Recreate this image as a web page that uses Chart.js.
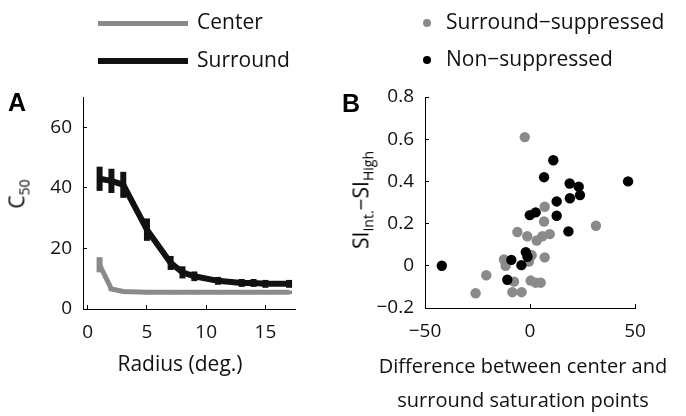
<!DOCTYPE html>
<html>
<head>
<meta charset="utf-8">
<script src="https://cdn.jsdelivr.net/npm/chart.js@4/dist/chart.umd.min.js"></script>
<style>
  body { margin: 0; background: #fff; font-family: "Open Sans", sans-serif; }
  #wrap { position: relative; width: 686px; height: 416px; overflow: hidden; }
  .box { position: absolute; top: 0; }
  .txt { position: absolute; white-space: nowrap; font-size: 21px; color: #111; line-height: 1; }
  .panel { position: absolute; font: bold 25px "Liberation Sans", Arial, sans-serif; }
  .rot { position: absolute; transform: translate(-50%, -50%) rotate(-90deg); white-space: nowrap; font-size: 21px; }
  .rot sub { font-size: 14px; }
  .xt { position: absolute; text-align: center; font-size: 20px; line-height: 34px; color: #111; white-space: nowrap; }
  .lline { position: absolute; }
  .ldot { position: absolute; border-radius: 50%; }
</style>
</head>
<body>
<div id="wrap">
  <div class="box" style="left:0"><canvas id="chartA" width="340" height="416"></canvas></div>
  <div class="box" style="left:340px"><canvas id="chartB" width="346" height="416"></canvas></div>
  <div class="panel" style="left:8px;top:88px">A</div>
  <div class="panel" style="left:342px;top:89px">B</div>
  <div class="rot" style="left:18px;top:194px">C<sub>50</sub></div>
  <div class="rot" style="left:362px;top:200px">SI<sub>Int.</sub>−SI<sub>High</sub></div>
  <div class="xt" style="left:80px;width:200px;top:346px;font-size:21px">Radius (deg.)</div>
  <div class="xt" style="left:350px;width:346px;top:349px">Difference between center and<br>surround saturation points</div>
  <div id="legA"></div>
  <div id="legB"></div>
</div>
<script>
// panel A: C50 vs radius
const radius = [1, 2, 3, 5, 7, 8, 9, 11, 13, 14, 15, 17];
const center = [14.6, 6.6, 5.8, 5.5, 5.5, 5.5, 5.5, 5.5, 5.5, 5.5, 5.5, 5.5];
const centerErr = [2.5, 0.6, 0.6, 0.6, 0.6, 0.6, 0.6, 0.6, 0.6, 0.6, 0.6, 0.6];
const surround = [43, 42.3, 41, 26.2, 15.2, 12.1, 10.8, 9.3, 8.6, 8.6, 8.3, 8.3];
const surroundErr = [4, 4, 4.3, 3.7, 2.3, 2, 1.6, 1.3, 1.3, 1.3, 1.3, 1.3];
const xTicksA = [0, 5, 10, 15];
const yTicksA = [0, 20, 40, 60];

// panel B: SI difference vs saturation point difference
const suppressed = [
  [-2.5, 0.61], [7, 0.28], [6.7, 0.21], [31.4, 0.19], [-6, 0.16], [-1.3, 0.14],
  [9.4, 0.15], [5.9, 0.14], [3.2, 0.12], [7, 0.04], [-12.4, 0.03], [-11.6, 0],
  [-0.5, 0.02], [0.8, 0.05], [-20.8, -0.045], [-25.9, -0.13], [-7.6, -0.075],
  [-8.4, -0.125], [-4, -0.125], [0.3, -0.07], [2.7, -0.08], [5.1, -0.08]
];
const nonSuppressed = [
  [-42, 0], [11.1, 0.5], [6.7, 0.42], [18.9, 0.39], [23.2, 0.375], [23.8, 0.335],
  [19, 0.32], [12.7, 0.305], [12.7, 0.237], [2.7, 0.253], [-0.1, 0.24], [18.3, 0.163],
  [-2, 0.065], [-1.2, 0.043], [-8.9, 0.028], [-4.1, 0.003], [-10.8, -0.066], [46.7, 0.4]
];
const xTicksB = [-50, 0, 50];
const yTicksB = [-0.2, 0, 0.2, 0.4, 0.6, 0.8];

const FONT = '"Open Sans", sans-serif';
const GRAY = '#8a8a8a';
const BLACK = '#111111';

const minus = v => String(v).replace('-', '\u2212');

function axis(min, max, ticks, fit) {
  return {
    type: 'linear', min: min, max: max,
    afterBuildTicks: a => { a.ticks = ticks.map(v => ({ value: v })); },
    afterFit: fit,
    grid: { drawOnChartArea: false, tickLength: -4, tickColor: '#000', tickWidth: 1 },
    border: { display: true, color: '#000', width: 1 },
    ticks: { color: '#111', font: { family: FONT, size: 19 }, padding: 15, maxRotation: 0,
      callback: v => minus(v) }
  };
}

// vertical error bars through the chart scales
const errorBars = {
  id: 'errorBars',
  afterDatasetsDraw(chart) {
    const { ctx, scales: { x, y } } = chart;
    chart.data.datasets.forEach(ds => {
      if (!ds.errors) return;
      ctx.save();
      ctx.strokeStyle = ds.borderColor;
      ds.data.forEach((p, j) => {
        const px = x.getPixelForValue(p.x);
        const top = y.getPixelForValue(p.y + ds.errors[j]);
        const bot = y.getPixelForValue(p.y - ds.errors[j]);
        ctx.lineWidth = 6;
        ctx.beginPath(); ctx.moveTo(px, top); ctx.lineTo(px, bot); ctx.stroke();
      });
      ctx.restore();
    });
  }
};

const xA = axis(-0.4, 17.5, xTicksA, s => { s.height = 66; });
xA.ticks.padding = 16;

const chartA = new Chart(document.getElementById('chartA'), {
  type: 'line',
  data: {
    datasets: [{
      label: 'Center',
      data: radius.map((r, i) => ({ x: r, y: center[i] })),
      errors: centerErr,
      borderColor: GRAY, backgroundColor: GRAY, borderWidth: 5,
      pointRadius: 0, tension: 0, order: 1
    }, {
      label: 'Surround',
      data: radius.map((r, i) => ({ x: r, y: surround[i] })),
      errors: surroundErr,
      borderColor: BLACK, backgroundColor: BLACK, borderWidth: 6,
      pointRadius: 0, tension: 0, order: 0
    }]
  },
  options: {
    responsive: false, animation: false,
    layout: { padding: { top: 97, right: 45, bottom: 41, left: 0 } },
    plugins: { legend: { display: false }, tooltip: { enabled: false } },
    scales: {
      x: xA,
      y: axis(0, 70, yTicksA, s => { s.width = 83; })
    }
  },
  plugins: [errorBars]
});

const xB = axis(-50, 50, xTicksB, s => { s.height = 108; });
xB.ticks.padding = 16;

const chartB = new Chart(document.getElementById('chartB'), {
  type: 'scatter',
  data: {
    datasets: [{
      label: 'Surround\u2212suppressed',
      data: suppressed.map(p => ({ x: p[0], y: p[1] })),
      backgroundColor: GRAY, borderColor: GRAY, pointRadius: 5.2, borderWidth: 0, order: 1
    }, {
      label: 'Non\u2212suppressed',
      data: nonSuppressed.map(p => ({ x: p[0], y: p[1] })),
      backgroundColor: '#000', borderColor: '#000', pointRadius: 5.2, borderWidth: 0, order: 0
    }]
  },
  options: {
    responsive: false, animation: false,
    layout: { padding: { top: 97, right: 51, bottom: 0, left: 0 } },
    plugins: { legend: { display: false }, tooltip: { enabled: false } },
    scales: {
      x: xB,
      y: axis(-0.2, 0.8, yTicksB, s => { s.width = 85; })
    }
  }
});

// legends built from the dataset labels
const legA = document.getElementById('legA');
chartA.data.datasets.forEach((ds, i) => {
  const cy = [23, 61][i];
  legA.innerHTML += '<div class="lline" style="left:98px;top:' + (cy - ds.borderWidth / 2) + 'px;width:90px;height:' +
    ds.borderWidth + 'px;background:' + ds.borderColor + '"></div>' +
    '<div class="txt" style="left:197px;top:' + (cy - 12) + 'px">' + ds.label + '</div>';
});
const legB = document.getElementById('legB');
chartB.data.datasets.forEach((ds, i) => {
  const cy = [23, 60][i];
  legB.innerHTML += '<div class="ldot" style="left:423px;top:' + (cy - 4) + 'px;width:8px;height:8px;background:' +
    ds.backgroundColor + '"></div>' +
    '<div class="txt" style="left:446px;top:' + (cy - 12) + 'px">' + ds.label + '</div>';
});
</script>
</body>
</html>
